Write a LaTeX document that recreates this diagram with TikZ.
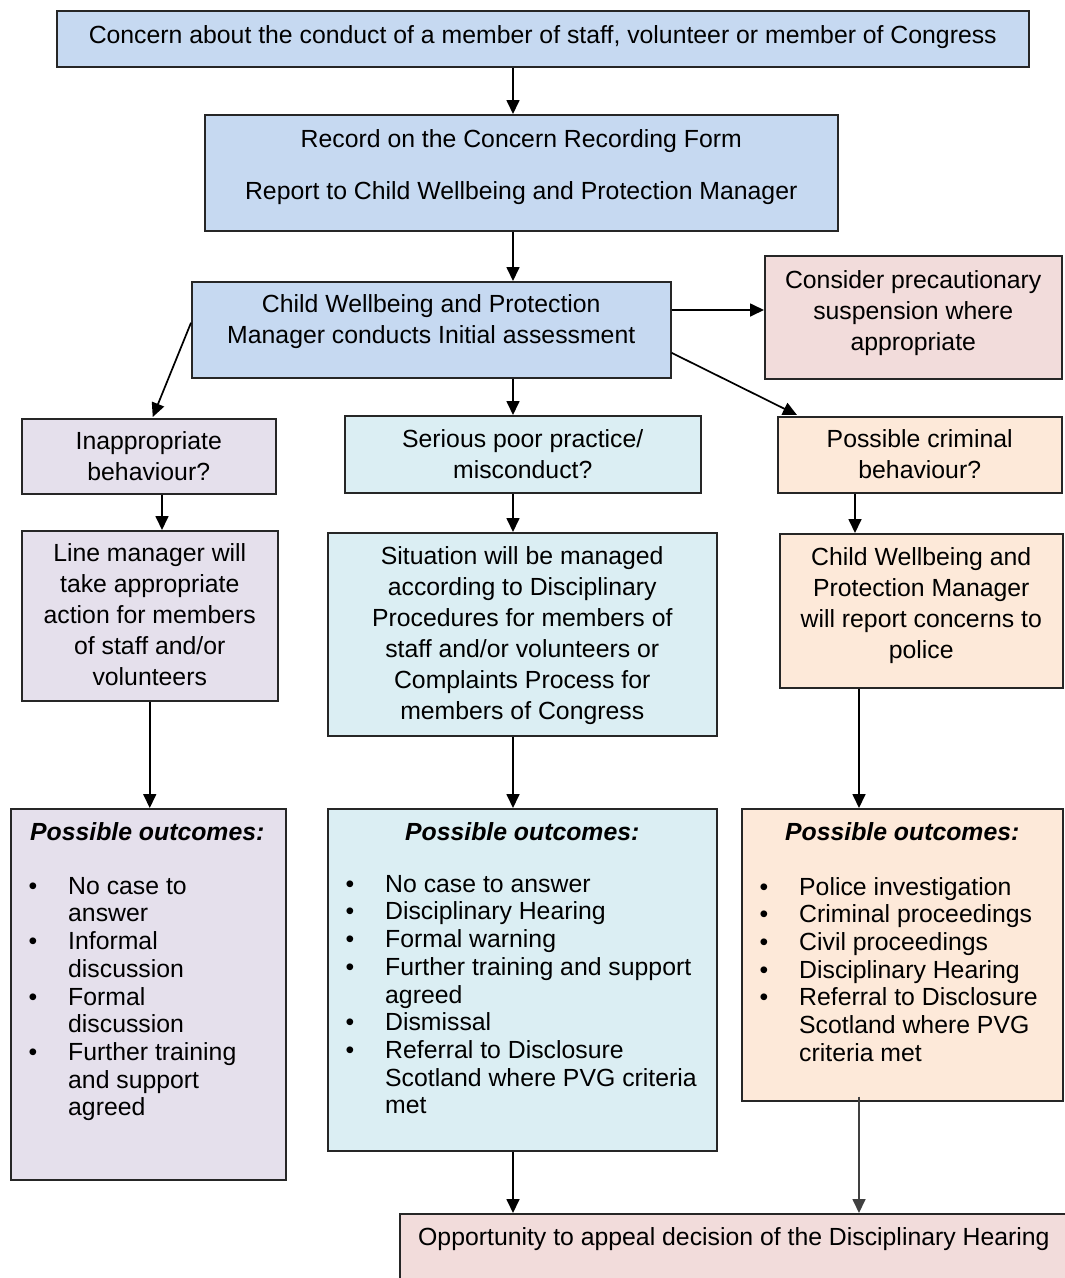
\documentclass[tikz,border=0pt]{standalone}
\usepackage{fontspec}
\setmainfont{Liberation Sans}
\usetikzlibrary{arrows.meta, calc}

\definecolor{boxBlue}{HTML}{C6D9F1}
\definecolor{boxPink}{HTML}{F2DCDB}
\definecolor{boxLilac}{HTML}{E5E0EC}
\definecolor{boxCyan}{HTML}{DBEEF3}
\definecolor{boxPeach}{HTML}{FDE9D9}

\newcommand{\boxfont}{\fontsize{24.8}{31}\selectfont}
\newcommand{\listfont}{\fontsize{24.8}{27.7}\selectfont}
\newcommand{\bul}{\makebox[39.5pt][l]{\textbullet}}
\newcommand{\cont}{\hspace*{39.5pt}}

\tikzset{
  flowbox/.style={draw=black!85, line width=1.5pt, anchor=north west, inner sep=0pt},
  boxtext/.style={anchor=north, align=center, inner sep=0pt, font=\boxfont},
  listtext/.style={anchor=north west, align=left, inner sep=0pt, font=\listfont},
  flowarrow/.style={-{Triangle[length=14pt,width=13pt]}, line width=1.7pt},
}

\begin{document}
\begin{tikzpicture}[x=1pt, y=-1pt]

\useasboundingbox (0,0) rectangle (1065,1278);
\clip (0,0) rectangle (1065,1278);

%% vertical lines the arrows run on
\coordinate (spine) at (513,0);
\coordinate (inaline) at (162,0);
\coordinate (criline) at (855,0);
\coordinate (cwline) at (859,0);
\coordinate (sideY) at (0,310);

%% boxes
\node[flowbox, fill=boxBlue, minimum width=972, minimum height=56] (top) at (56,10) {};
\node[flowbox, fill=boxBlue, minimum width=633, minimum height=116] (rec) at (204,114) {};
\node[flowbox, fill=boxBlue, minimum width=479, minimum height=96] (ass) at (191,281) {};
\node[flowbox, fill=boxPink, minimum width=297, minimum height=123] (con) at (764,255) {};

\node[flowbox, fill=boxLilac, minimum width=254, minimum height=75] (ina) at (21,418) {};
\node[flowbox, fill=boxCyan, minimum width=356, minimum height=77] (ser) at (344,415) {};
\node[flowbox, fill=boxPeach, minimum width=284, minimum height=76] (cri) at (777,416) {};

\node[flowbox, fill=boxLilac, minimum width=256, minimum height=170] (lm) at (21,530) {};
\node[flowbox, fill=boxCyan, minimum width=389, minimum height=203] (sit) at (327,532) {};
\node[flowbox, fill=boxPeach, minimum width=283, minimum height=154] (cw) at (779,533) {};

\node[flowbox, fill=boxLilac, minimum width=275, minimum height=371] (outL) at (10,808) {};
\node[flowbox, fill=boxCyan, minimum width=389, minimum height=342] (outM) at (327,808) {};
\node[flowbox, fill=boxPeach, minimum width=321, minimum height=292] (outR) at (741,808) {};

\node[flowbox, fill=boxPink, minimum width=680, minimum height=80] (app) at (399,1213) {};

%% arrows
\draw[flowarrow] (top.south -| spine) -- (rec.north -| spine);
\draw[flowarrow] (rec.south -| spine) -- (ass.north -| spine);
\draw[flowarrow] (ass.east |- sideY) -- (con.west |- sideY);
\draw[flowarrow] ($(ass.west)+(0,-7)$) -- ($(ina.north)+(4,-1)$);
\draw[flowarrow] ($(ass.east)+(0,23)$) -- ($(cri.north west)+(20,-1)$);
\draw[flowarrow] (ass.south -| spine) -- (ser.north -| spine);

\draw[flowarrow] (ina.south -| inaline) -- (lm.north -| inaline);
\draw[flowarrow] (ser.south -| spine) -- (sit.north -| spine);
\draw[flowarrow] (cri.south -| criline) -- (cw.north -| criline);

\draw[flowarrow] (lm.south) -- (lm.south |- outL.north);
\draw[flowarrow] (sit.south -| spine) -- (outM.north -| spine);
\draw[flowarrow] (cw.south -| cwline) -- (outR.north -| cwline);

\draw[flowarrow] (outM.south -| spine) -- (app.north -| spine);
\draw[flowarrow, black!75] ($(outR.south -| cwline)+(0,-5)$) -- (app.north -| cwline);

%% texts
\node[boxtext] (topT) at ($(top.north)+(0,15)$) {Concern about the conduct of a member of staff, volunteer or member of Congress};
\node[boxtext] (recT) at ($(rec.north)+(0,15)$) {Record on the Concern Recording Form\\[21pt]Report to Child Wellbeing and Protection Manager};
\node[boxtext] (assT) at ($(ass.north)+(0,13)$) {Child Wellbeing and Protection\\Manager conducts Initial assessment};
\node[boxtext] (conT) at ($(con.north)+(0,15)$) {Consider precautionary\\suspension where\\appropriate};

\node[boxtext] (inaT) at ($(ina.north)+(0,13)$) {Inappropriate\\behaviour?};
\node[boxtext] (serT) at ($(ser.north)+(0,14)$) {Serious poor practice/\\misconduct?};
\node[boxtext] (criT) at ($(cri.north)+(0,13)$) {Possible criminal\\behaviour?};

\node[boxtext] (lmT) at ($(lm.north)+(0,13)$) {Line manager will\\take appropriate\\action for members\\of staff and/or\\volunteers};
\node[boxtext] (sitT) at ($(sit.north)+(0,14)$) {Situation will be managed\\according to Disciplinary\\Procedures for members of\\staff and/or volunteers or\\Complaints Process for\\members of Congress};
\node[boxtext] (cwT) at ($(cw.north)+(0,14)$) {Child Wellbeing and\\Protection Manager\\will report concerns to\\police};

%% possible outcomes
\node[boxtext] (outLH) at ($(outL.north)+(-1,14)$) {\textbf{\textit{Possible outcomes:}}};
\node[boxtext] (outMH) at ($(outM.north)+(0,14)$) {\textbf{\textit{Possible outcomes:}}};
\node[boxtext] (outRH) at ($(outR.north)+(0,14)$) {\textbf{\textit{Possible outcomes:}}};

\node[listtext] (outLT) at ($(outL.north west)+(18.5,69)$) {\bul No case to\\\cont answer\\\bul Informal\\\cont discussion\\\bul Formal\\\cont discussion\\\bul Further training\\\cont and support\\\cont agreed};
\node[listtext] (outMT) at ($(outM.north west)+(18.5,67)$) {\bul No case to answer\\\bul Disciplinary Hearing\\\bul Formal warning\\\bul Further training and support\\\cont agreed\\\bul Dismissal\\\bul Referral to Disclosure\\\cont Scotland where PVG criteria\\\cont met};
\node[listtext] (outRT) at ($(outR.north west)+(18.5,69)$) {\bul Police investigation\\\bul Criminal proceedings\\\bul Civil proceedings\\\bul Disciplinary Hearing\\\bul Referral to Disclosure\\\cont Scotland where PVG\\\cont criteria met};

\node[listtext, font=\boxfont] (appT) at ($(app.north west)+(19,14)$) {Opportunity to appeal decision of the Disciplinary Hearing};

\end{tikzpicture}
\end{document}
